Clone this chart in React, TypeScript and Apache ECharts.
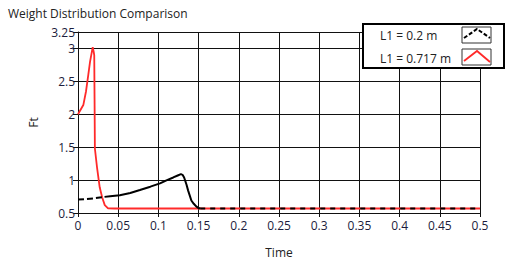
import React, { useEffect, useRef } from "react";
import * as echarts from "echarts";

const xTicks = [0, 0.5, 0.05];
const yTicks = [0.5, 3.25, 0.5];

const blackTime = [0, 0.01, 0.02, 0.027, 0.033, 0.04, 0.052, 0.065, 0.077, 0.09, 0.102, 0.11, 0.1185, 0.124, 0.128, 0.13, 0.132, 0.135, 0.137, 0.141, 0.144, 0.147, 0.15, 0.152, 0.2, 0.3, 0.4, 0.5];
const blackValues = [0.705, 0.712, 0.722, 0.735, 0.745, 0.755, 0.77, 0.805, 0.85, 0.9, 0.95, 0.995, 1.04, 1.07, 1.09, 1.08, 1.04, 0.93, 0.84, 0.69, 0.64, 0.6, 0.575, 0.568, 0.568, 0.568, 0.568, 0.568];

const redTime = [0, 0.0066, 0.01, 0.0128, 0.015, 0.0183, 0.0195, 0.0202, 0.0206, 0.021, 0.0237, 0.027, 0.03, 0.0333, 0.0374, 0.045, 0.1, 0.2, 0.3, 0.4, 0.5];
const redValues = [2.0, 2.14, 2.35, 2.6, 2.8, 3.02, 2.95, 2.9, 2.22, 1.48, 1.19, 0.89, 0.74, 0.62, 0.57, 0.568, 0.568, 0.568, 0.568, 0.568, 0.568];

const legendLabels = ["L1 = 0.2 m", "L1 = 0.717 m"];
const titleText = "Weight Distribution Comparison";
const xName = "Time";
const yName = "Ft";

const FONT = "'Open Sans', 'Noto Sans', sans-serif";
const LABEL_COLOR = "#1c1c3c";

export default function App() {
  const ref = useRef<HTMLDivElement>(null);
  useEffect(() => {
    if (!ref.current) return;
    const chart = echarts.init(ref.current, undefined, { renderer: "svg" });
    const black = blackTime.map((t, i) => [t, blackValues[i]]);
    const red = redTime.map((t, i) => [t, redValues[i]]);
    const dashA = black.filter((p) => p[0] <= 0.033);
    const solid = black.filter((p) => p[0] >= 0.033 && p[0] <= 0.152);
    const dashB = black.filter((p) => p[0] >= 0.152);
    const lineBase = { type: "line", showSymbol: false, symbol: "none", smooth: false };
    const Z = 100;
    chart.setOption({
      animation: false,
      backgroundColor: "#ffffff",
      textStyle: { fontFamily: FONT },
      grid: { left: 78, right: 33, top: 32, bottom: 47, containLabel: false },
      xAxis: {
        type: "value",
        min: xTicks[0],
        max: xTicks[1],
        interval: xTicks[2],
        name: xName,
        nameLocation: "middle",
        nameGap: 33,
        nameTextStyle: { color: "#222", fontSize: 12, fontFamily: FONT },
        axisLine: { show: true, lineStyle: { color: "#111", width: 1 } },
        axisTick: { show: true, length: 4, lineStyle: { color: "#111" } },
        axisLabel: { color: LABEL_COLOR, fontSize: 12, fontFamily: FONT, margin: 6 },
        splitLine: { show: true, lineStyle: { color: "#111", width: 1 } },
      },
      yAxis: {
        type: "value",
        min: yTicks[0],
        max: yTicks[1],
        interval: yTicks[2],
        name: yName,
        nameLocation: "middle",
        nameGap: 39,
        nameRotate: 90,
        nameTextStyle: { color: "#222", fontSize: 12, fontFamily: FONT },
        axisLine: { show: true, lineStyle: { color: "#111", width: 1 } },
        axisTick: { show: true, length: 5, lineStyle: { color: "#111" } },
        axisLabel: { color: LABEL_COLOR, fontSize: 12, fontFamily: FONT, margin: 3 },
        splitLine: { show: true, lineStyle: { color: "#111", width: 1 } },
      },
      title: {
        text: titleText,
        left: 3,
        top: 2,
        textStyle: { color: "#222", fontSize: 12, fontWeight: "normal", fontFamily: FONT },
      },
      series: [
        { ...lineBase, name: legendLabels[1], data: red, lineStyle: { color: "#ff2a2a", width: 1.8 }, z: 2 },
        { ...lineBase, name: legendLabels[0] + " a", data: dashA, lineStyle: { color: "#000", width: 2, type: [6, 3] }, z: 3 },
        { ...lineBase, name: legendLabels[0], data: solid, lineStyle: { color: "#000", width: 2 }, z: 3 },
        { ...lineBase, name: legendLabels[0] + " b", data: dashB, lineStyle: { color: "#000", width: 2, type: [5, 5] }, z: 3 },
      ],
      graphic: [
        {
          type: "group",
          left: 362,
          top: 23,
          z: Z,
          children: [
            { type: "rect", z: Z, shape: { x: 0, y: 0, width: 141, height: 44 }, style: { fill: "#fff", stroke: "#000", lineWidth: 2 } },
            { type: "text", z: Z + 1, x: 17, y: 11, style: { text: legendLabels[0], fill: "#222", font: `12px ${FONT}`, textVerticalAlign: "middle" } },
            { type: "text", z: Z + 1, x: 17, y: 34, style: { text: legendLabels[1], fill: "#222", font: `12px ${FONT}`, textVerticalAlign: "middle" } },
            { type: "rect", z: Z + 1, shape: { x: 99, y: 3, width: 29, height: 16 }, style: { fill: "#fff", stroke: "#333", lineWidth: 1 } },
            { type: "rect", z: Z + 1, shape: { x: 99, y: 25, width: 29, height: 16 }, style: { fill: "#fff", stroke: "#333", lineWidth: 1 } },
            { type: "polyline", z: Z + 2, shape: { points: [[101, 14], [114, 5], [127, 14]] }, style: { stroke: "#000", lineWidth: 2, lineDash: [4, 2], fill: null } },
            { type: "polyline", z: Z + 2, shape: { points: [[101, 37], [114, 27], [127, 38]] }, style: { stroke: "#ff2a2a", lineWidth: 1.8, fill: null } },
          ],
        },
      ],
    });
    return () => chart.dispose();
  }, []);
  return <div ref={ref} style={{ position: "absolute", left: 0, top: 0, width: 513, height: 263 }} />;
}
